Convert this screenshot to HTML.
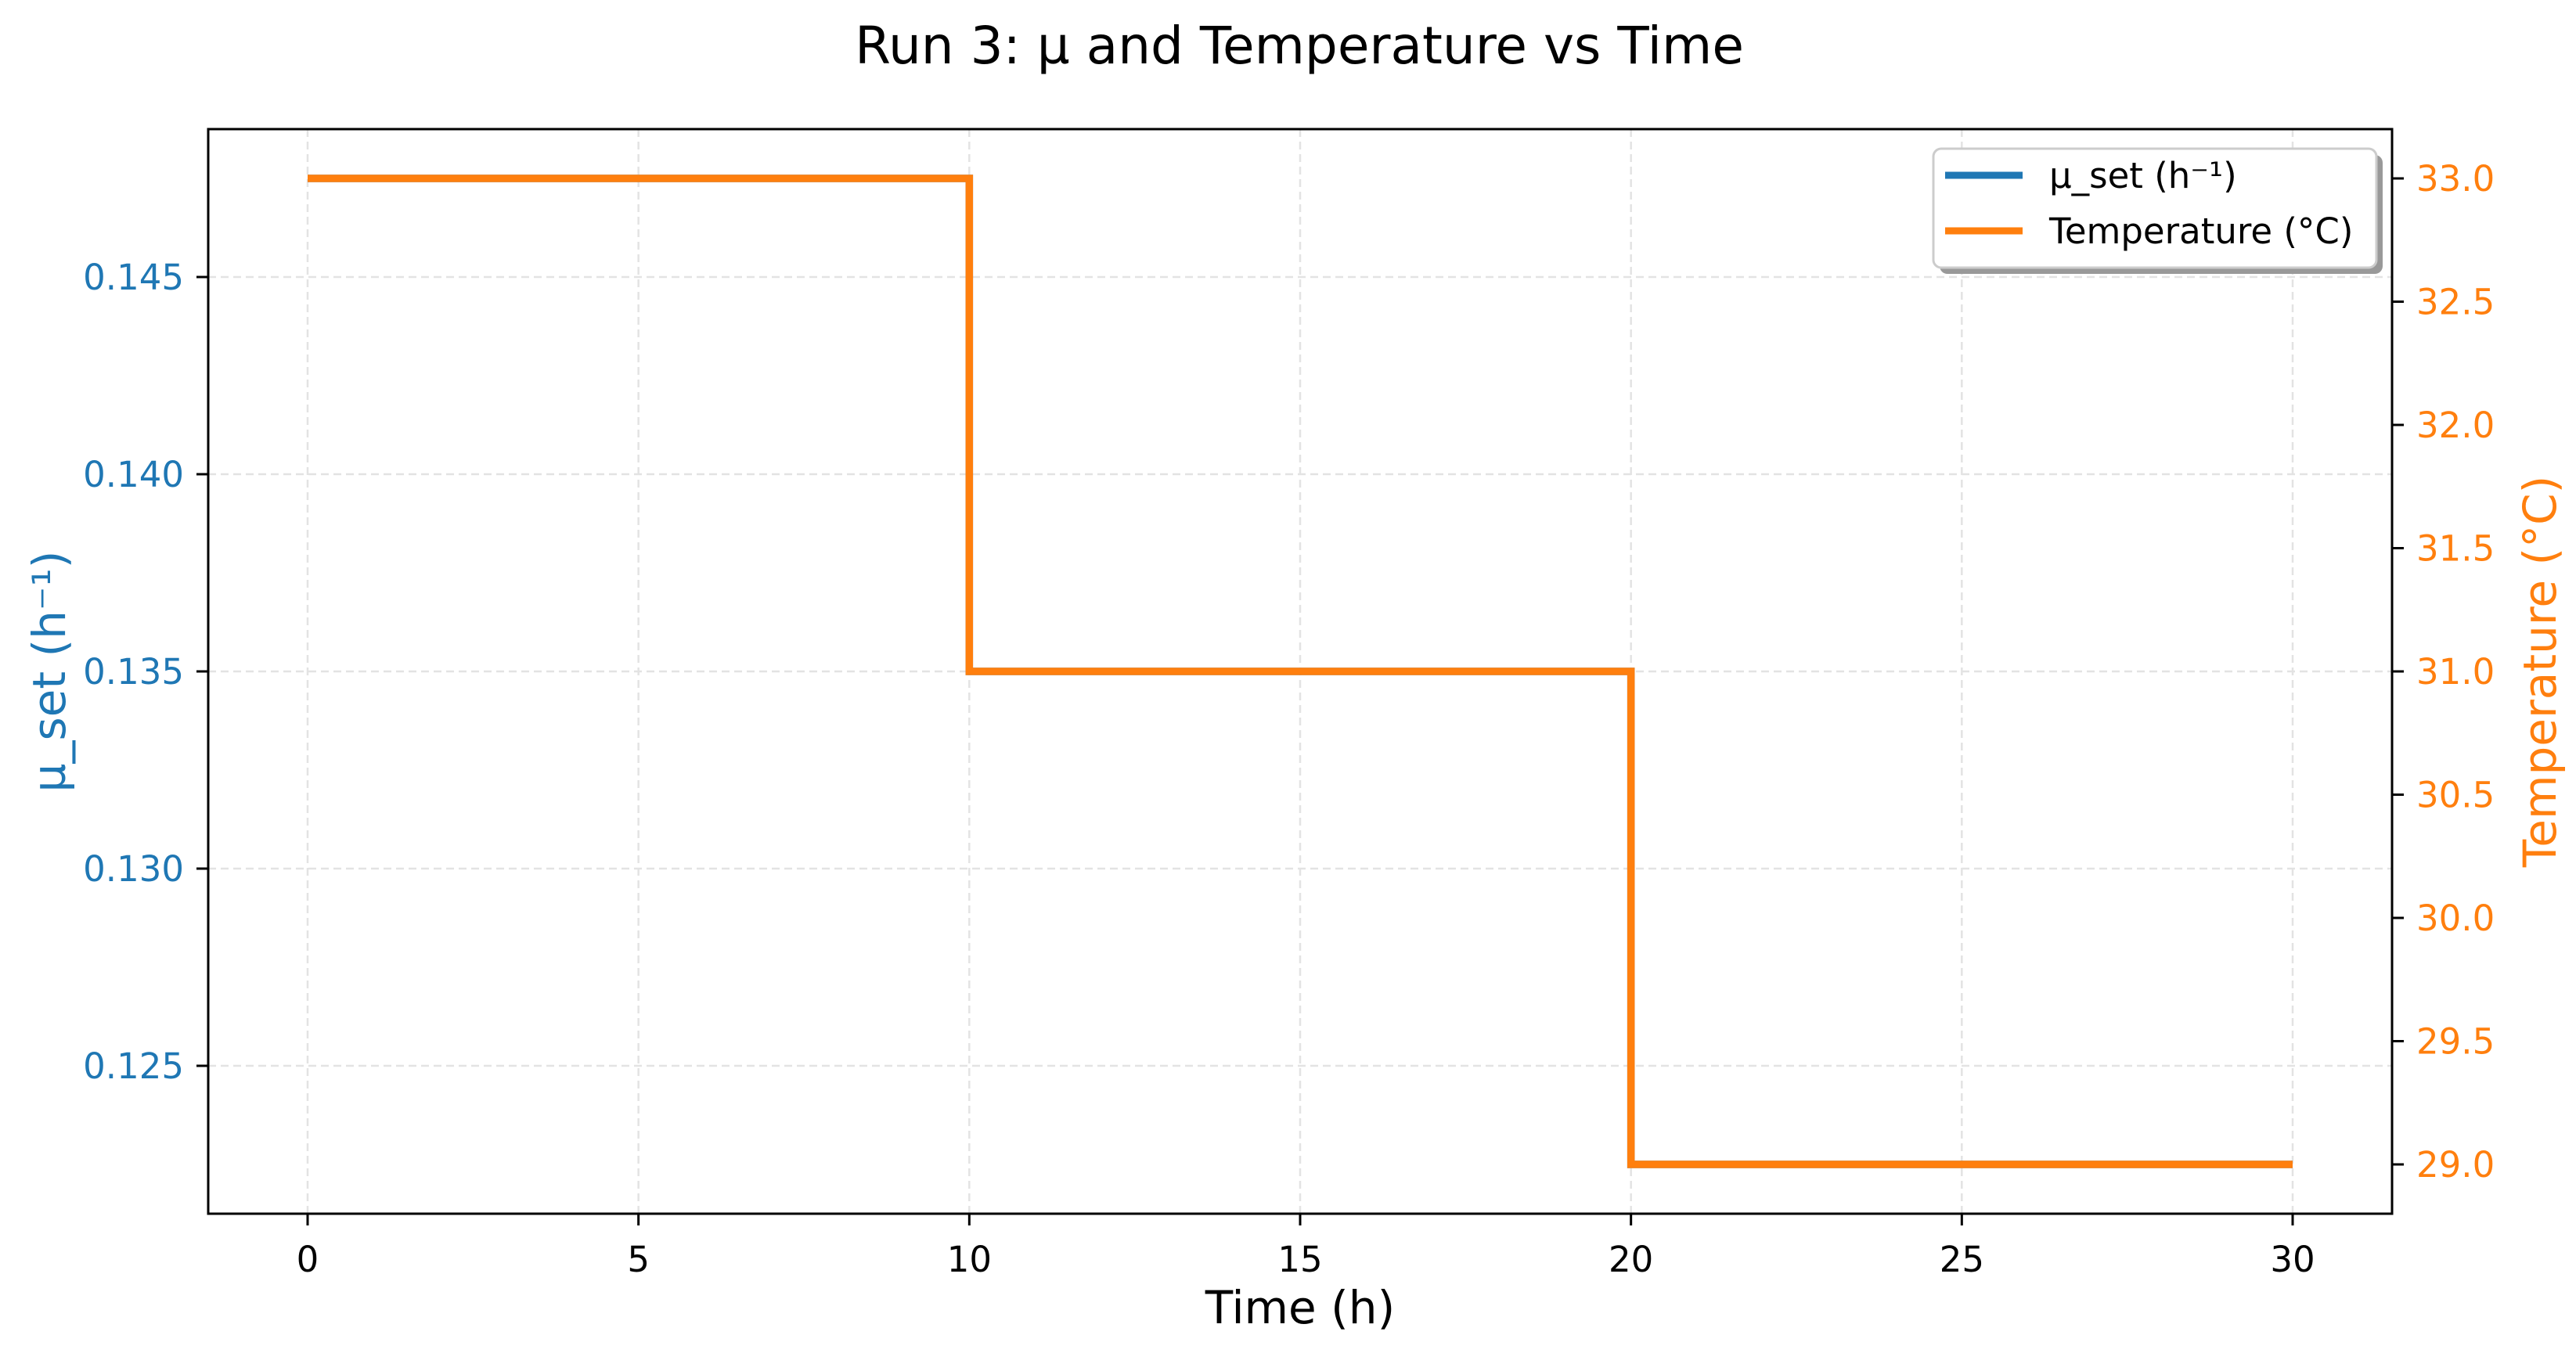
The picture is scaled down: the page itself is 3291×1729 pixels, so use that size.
<!DOCTYPE html>
<html><head><meta charset="utf-8"><style>
html,body{margin:0;padding:0;background:#fff;}
svg{display:block;font-family:"DejaVu Sans","Liberation Sans",sans-serif;}
</style></head><body>
<svg id="chart" width="3291" height="1729" viewBox="0 0 3291 1729" xmlns="http://www.w3.org/2000/svg">
<rect width="3291" height="1729" fill="#fff"/>
<text x="1660" y="81" font-size="66" text-anchor="middle" fill="#000">Run 3: µ and Temperature vs Time</text>
<g id="grid"></g>
<g id="series"></g>
<rect x="266" y="165" width="2790" height="1386" fill="none" stroke="#000" stroke-width="3"/>
<g id="axes"></g>
<text x="1661" y="1691" font-size="58" text-anchor="middle" fill="#000">Time (h)</text>
<text transform="translate(83,858) rotate(-90)" font-size="58" text-anchor="middle" fill="#1f77b4">µ_set (h⁻¹)</text>
<text transform="translate(3265,858) rotate(-90)" font-size="58" text-anchor="middle" fill="#ff7f0e">Temperature (°C)</text>
<g>
<rect x="2478" y="198" width="566" height="152" rx="10" fill="#999"/>
<rect x="2470" y="190" width="566" height="152" rx="10" fill="#fff" stroke="#ccc" stroke-width="3"/>
<line x1="2485" y1="224" x2="2584" y2="224" stroke="#1f77b4" stroke-width="9"/>
<text x="2618" y="240" font-size="45" fill="#000">µ_set (h⁻¹)</text>
<line x1="2485" y1="295" x2="2584" y2="295" stroke="#ff7f0e" stroke-width="9"/>
<text x="2618" y="311" font-size="45" fill="#000">Temperature (°C)</text>
</g>
</svg>
<script>
const times = [0, 10, 20, 30];
const muValues = [0.1475, 0.135, 0.1225, 0.1225];
const tempValues = [33.0, 31.0, 29.0, 29.0];
const xTicks = [0, 5, 10, 15, 20, 25, 30];
const muTicks = [0.125, 0.130, 0.135, 0.140, 0.145];
const muTickLabels = ["0.125","0.130","0.135","0.140","0.145"];
const tempTicks = [29.0, 29.5, 30.0, 30.5, 31.0, 31.5, 32.0, 32.5, 33.0];

const NS = "http://www.w3.org/2000/svg";
const L = 266, R = 3056, T = 165, B = 1551;
const xs = t => 393 + (t - 0) * (2929 - 393) / 30;
const ymu = v => 228 + (0.1475 - v) * (1488 - 228) / 0.025;
const yt = v => 1488 - (v - 29) * (1488 - 228) / 4;

function mk(tag, attrs, parent) {
  const e = document.createElementNS(NS, tag);
  for (const k in attrs) e.setAttribute(k, attrs[k]);
  parent.appendChild(e);
  return e;
}
const grid = document.getElementById("grid");
const axes = document.getElementById("axes");
const series = document.getElementById("series");

xTicks.forEach(t => {
  const x = xs(t);
  const g = mk("line", {x1:x, y1:T, x2:x, y2:B, stroke:"#e3e3e3", "stroke-width":2.5, "stroke-dasharray":"10,6"}, grid);
  
  
  const tk = mk("line", {x1:x, y1:B, x2:x, y2:B+15, stroke:"#000", "stroke-width":3}, axes);
  
  
  const lb = mk("text", {x:x, y:1625, "font-size":45, "text-anchor":"middle", fill:"#000"}, axes);
  lb.textContent = String(t);
  
  
});
muTicks.forEach((v, i) => {
  const y = ymu(v);
  const g = mk("line", {x1:L, y1:y, x2:R, y2:y, stroke:"#e3e3e3", "stroke-width":2.5, "stroke-dasharray":"10,6"}, grid);
  
  
  const tk = mk("line", {x1:L-15, y1:y, x2:L, y2:y, stroke:"#000", "stroke-width":3}, axes);
  
  
  const lb = mk("text", {x:235, y:y+16, "font-size":45, "text-anchor":"end", fill:"#1f77b4"}, axes);
  lb.textContent = muTickLabels[i];
  
  
});
tempTicks.forEach(v => {
  const y = yt(v);
  const tk = mk("line", {x1:R, y1:y, x2:R+15, y2:y, stroke:"#000", "stroke-width":3}, axes);
  
  
  const lb = mk("text", {x:3087, y:y+16, "font-size":45, "text-anchor":"start", fill:"#ff7f0e"}, axes);
  lb.textContent = v.toFixed(1);
  
  
});

function stepPath(vals, yf) {
  let d = "M" + xs(times[0]) + "," + yf(vals[0]);
  for (let i = 1; i < times.length; i++) {
    d += " L" + xs(times[i]) + "," + yf(vals[i-1]) + " L" + xs(times[i]) + "," + yf(vals[i]);
  }
  return d;
}
const mu = mk("path", {d: stepPath(muValues, ymu), fill:"none", stroke:"#1f77b4", "stroke-width":9.5}, series);


const tp = mk("path", {d: stepPath(tempValues, yt), fill:"none", stroke:"#ff7f0e", "stroke-width":9.5}, series);


</script>
</body></html>
